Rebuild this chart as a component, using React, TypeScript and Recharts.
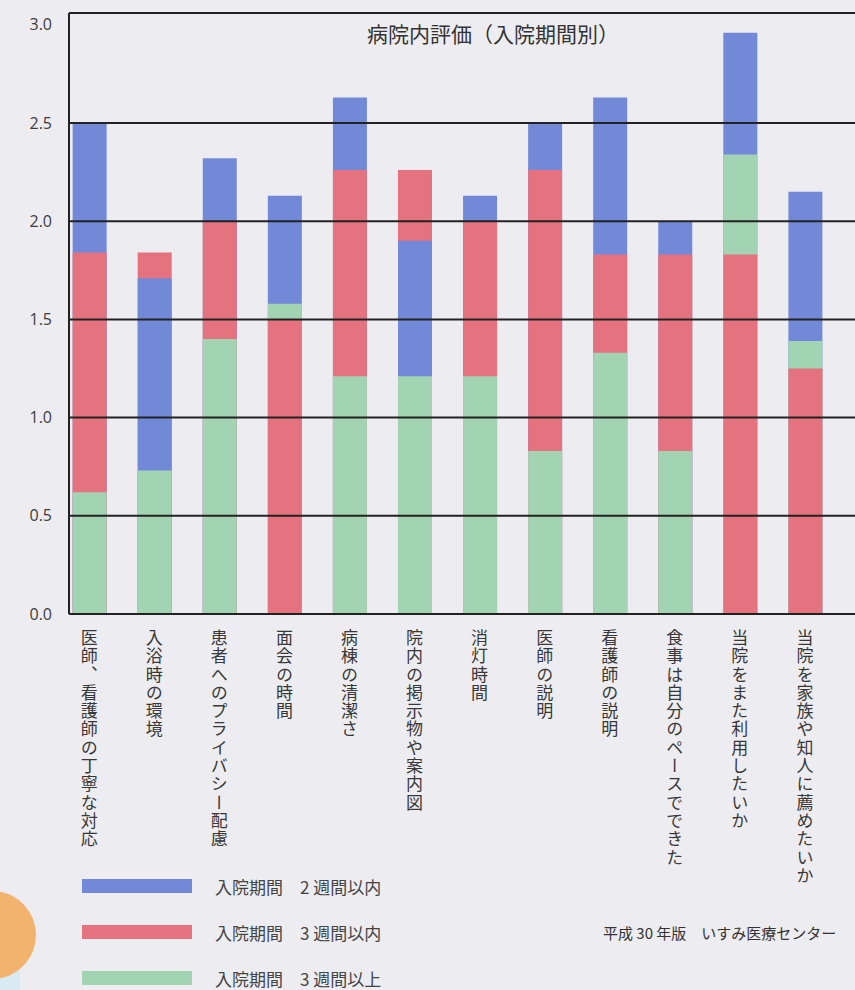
import React from 'react';
import { BarChart, Bar, XAxis, YAxis, ReferenceLine, Cell } from 'recharts';

// 病院内評価（入院期間別） - average score per item, by length of stay
const categories = [
    '医師、看護師の丁寧な対応',
    '入浴時の環境',
    '患者へのプライバシー配慮',
    '面会の時間',
    '病棟の清潔さ',
    '院内の掲示物や案内図',
    '消灯時間',
    '医師の説明',
    '看護師の説明',
    '食事は自分のペースでできた',
    '当院をまた利用したいか',
    '当院を家族や知人に薦めたいか',
];

const within2Weeks = [2.5, 1.71, 2.32, 2.13, 2.63, 1.9, 2.13, 2.5, 2.63, 2.0, 2.96, 2.15];
const within3Weeks = [1.84, 1.84, 2.0, 1.5, 2.26, 2.26, 2.0, 2.26, 1.83, 1.83, 1.83, 1.25];
const over3Weeks = [0.62, 0.73, 1.4, 1.58, 1.21, 1.21, 1.21, 0.83, 1.33, 0.83, 2.34, 1.39];

const yTicks = [0, 0.5, 1.0, 1.5, 2.0, 2.5, 3.0];
const gridValues = [0.5, 1.0, 1.5, 2.0, 2.5];

const Y_MAX = 3.06;
const X_DOMAIN = [-0.31, 12.0];

const JP_FONT = '"Noto Sans CJK JP", "Noto Sans", sans-serif';

const series = [
    { name: '入院期間　2 週間以内', values: within2Weeks, color: '#7189d6' },
    { name: '入院期間　3 週間以内', values: within3Weeks, color: '#e5727f' },
    { name: '入院期間　3 週間以上', values: over3Weeks, color: '#a2d3b3' },
];

// bars overlap: the tallest is drawn first, the shortest in front
const rows = categories.map((name, i) => {
    const ranked = series
        .map((s) => ({ value: s.values[i], color: s.color }))
        .sort((a, b) => b.value - a.value);
    return {
        pos: i,
        name,
        high: ranked[0].value,
        mid: ranked[1].value,
        low: ranked[2].value,
        highColor: ranked[0].color,
        midColor: ranked[1].color,
        lowColor: ranked[2].color,
    };
});

const layers = [
    { key: 'high', axis: 'a' },
    { key: 'mid', axis: 'b' },
    { key: 'low', axis: 'c' },
];

const VerticalTick = (props: any) => {
    const { x, y, payload } = props;
    return (
        <text
            x={x}
            y={y + 13}
            fill="#383838"
            fontSize={17}
            fontFamily={JP_FONT}
            textAnchor="start"
            style={{ writingMode: 'vertical-rl', letterSpacing: 1.3 }}
        >
            {categories[payload.value]}
        </text>
    );
};

export default function App() {
    return (
        <div
            style={{
                position: 'absolute',
                left: 0,
                top: 0,
                width: 855,
                height: 990,
                overflow: 'hidden',
                background: '#ededf1',
            }}
        >
            <div
                style={{
                    position: 'absolute',
                    left: 0,
                    top: 900,
                    width: 20,
                    height: 90,
                    background: '#d9eaf2',
                }}
            />
            <div
                style={{
                    position: 'absolute',
                    left: -52,
                    top: 891,
                    width: 88,
                    height: 88,
                    borderRadius: '50%',
                    background: '#f2b36f',
                }}
            />
            <BarChart
                width={870}
                height={990}
                data={rows}
                margin={{ top: 13, right: 0, left: 0, bottom: 0 }}
            >
                {layers.map((l, idx) => (
                    <XAxis
                        key={l.axis}
                        xAxisId={l.axis}
                        type="number"
                        dataKey="pos"
                        domain={X_DOMAIN}
                        ticks={categories.map((_, i) => i)}
                        interval={0}
                        hide={idx > 0}
                        height={376}
                        axisLine={{ stroke: '#222', strokeWidth: 2 }}
                        tickLine={false}
                        tickSize={0}
                        tick={<VerticalTick />}
                    />
                ))}
                <YAxis
                    xAxisId="a"
                    width={69}
                    domain={[0, Y_MAX]}
                    ticks={yTicks}
                    interval={0}
                    axisLine={{ stroke: '#222', strokeWidth: 2 }}
                    tickLine={false}
                    tickMargin={11}
                    tickFormatter={(v: number) => v.toFixed(1)}
                    tick={{ fill: '#3c3c3c', fontSize: 16, fontFamily: '"Open Sans", sans-serif' }}
                />
                {gridValues.map((v) => (
                    <ReferenceLine key={v} xAxisId="a" y={v} stroke="#222" strokeWidth={2} />
                ))}
                <ReferenceLine xAxisId="a" y={Y_MAX} stroke="#222" strokeWidth={2} />
                {layers.map((l) => (
                    <Bar
                        key={l.key}
                        xAxisId={l.axis}
                        dataKey={l.key}
                        barSize={34}
                        isAnimationActive={false}
                    >
                        {rows.map((r, i) => (
                            <Cell key={i} fill={(r as any)[l.key + 'Color']} />
                        ))}
                    </Bar>
                ))}
            </BarChart>

            <div
                style={{
                    position: 'absolute',
                    left: 493,
                    top: 19,
                    transform: 'translateX(-50%)',
                    fontFamily: JP_FONT,
                    fontSize: 21,
                    color: '#333',
                    whiteSpace: 'nowrap',
                    lineHeight: '28px',
                }}
            >
                病院内評価（入院期間別）
            </div>

            {series.map((s, i) => (
                <div
                    key={s.name}
                    style={{
                        position: 'absolute',
                        left: 82,
                        top: 872 + i * 46,
                        height: 28,
                        display: 'flex',
                        alignItems: 'center',
                        fontFamily: JP_FONT,
                        fontSize: 17,
                        color: '#444',
                        whiteSpace: 'pre',
                    }}
                >
                    <div style={{ width: 110, height: 14, background: s.color, marginRight: 23 }} />
                    {s.name}
                </div>
            ))}

            <div
                style={{
                    position: 'absolute',
                    left: 603,
                    top: 921,
                    fontFamily: JP_FONT,
                    fontSize: 15,
                    color: '#333',
                    whiteSpace: 'pre',
                    lineHeight: '24px',
                }}
            >
                平成 30 年版　いすみ医療センター
            </div>
        </div>
    );
}
